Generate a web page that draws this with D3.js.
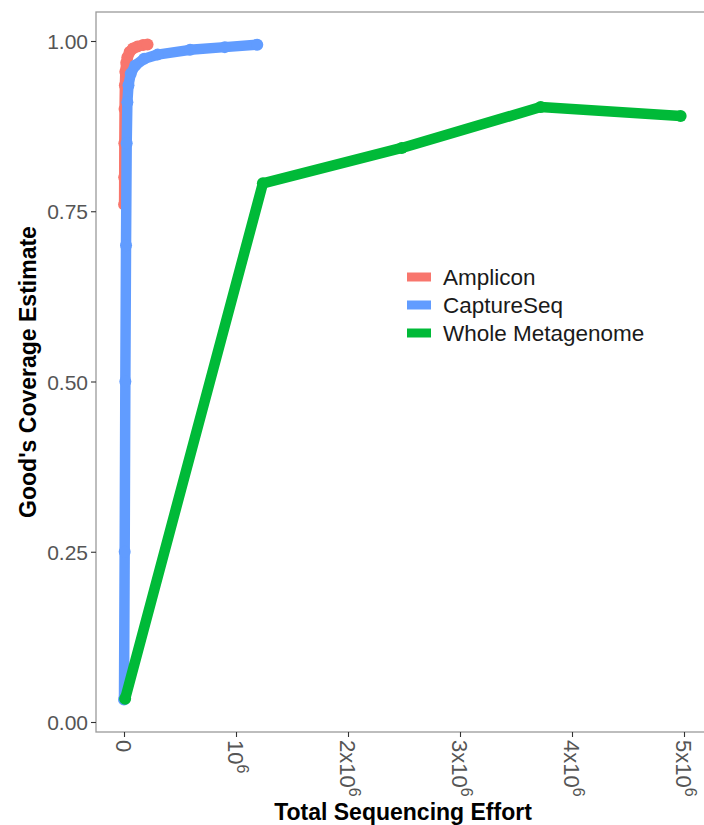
<!DOCTYPE html>
<html>
<head>
<meta charset="utf-8">
<script src="https://cdn.jsdelivr.net/npm/d3@7"></script>
<style>
  body { margin: 0; background: #fff; }
  text { font-family: "Liberation Sans", Arial, sans-serif; }
</style>
</head>
<body>
<div id="chart"></div>
<script>
// values (x = reads, y = Good's coverage)
let amplicon = [
  [0.001e6, 0.76], [0.002e6, 0.80], [0.003e6, 0.85], [0.005e6, 0.90],
  [0.008e6, 0.935], [0.012e6, 0.955], [0.02e6, 0.968], [0.03e6, 0.976],
  [0.05e6, 0.984], [0.08e6, 0.989], [0.12e6, 0.992], [0.17e6, 0.994],
  [0.21e6, 0.995]
];
let captureSeq = [
  [0, 0.033], [0.006e6, 0.25], [0.012e6, 0.5], [0.018e6, 0.7],
  [0.024e6, 0.85], [0.03e6, 0.91], [0.04e6, 0.935], [0.06e6, 0.952],
  [0.1e6, 0.964], [0.18e6, 0.974], [0.3e6, 0.98], [0.59e6, 0.987],
  [0.9e6, 0.991], [1.19e6, 0.9945]
];
let wholeMeta = [
  [0.01e6, 0.034], [1.24e6, 0.791], [2.48e6, 0.843], [3.72e6, 0.903],
  [4.97e6, 0.89]
];
let seriesNames = ["Amplicon", "CaptureSeq", "Whole Metagenome"];
let seriesColors = ["#F8766D", "#619CFF", "#00BA38"];
let yTicks = [0, 0.25, 0.5, 0.75, 1];
let xTicks = [0, 1e6, 2e6, 3e6, 4e6, 5e6];

let w = 704, h = 825;
let svg = d3.select("#chart").append("svg")
  .attr("width", w).attr("height", h);

let panel = { left: 96, top: 12, right: 706, bottom: 732 };

let x = d3.scaleLinear().domain([0, 5e6]).range([124, 684]);
let y = d3.scaleLinear().domain([0, 1]).range([722, 41]);

// panel border
svg.append("rect")
  .attr("x", panel.left).attr("y", panel.top)
  .attr("width", panel.right - panel.left)
  .attr("height", panel.bottom - panel.top)
  .attr("fill", "none").attr("stroke", "#9a9a9a").attr("stroke-width", 1.3);

// y axis
let yAxis = svg.append("g")
  .attr("transform", "translate(" + panel.left + ",0)")
  .call(d3.axisLeft(y).tickValues(yTicks).tickFormat(d3.format(".2f")).tickSize(5).tickPadding(3));
yAxis.select(".domain").remove();
yAxis.selectAll("line").attr("stroke", "#333").attr("stroke-width", 1.1);
yAxis.selectAll("text")
  .attr("font-size", 21).attr("fill", "#555")
  .attr("font-family", "Liberation Sans, Arial, sans-serif")
  .attr("dy", "0.36em");

// x axis
let xAxis = svg.append("g")
  .attr("transform", "translate(0," + panel.bottom + ")")
  .call(d3.axisBottom(x).tickValues(xTicks).tickSize(5).tickFormat(""));
xAxis.select(".domain").remove();
xAxis.selectAll("line").attr("stroke", "#333").attr("stroke-width", 1.1);

let xLab = svg.append("g").selectAll("text")
  .data(xTicks).enter().append("text")
  .attr("transform", d => "translate(" + x(d) + "," + (panel.bottom + 8) + ") rotate(90)")
  .attr("text-anchor", "start")
  .attr("dy", "0.36em")
  .attr("font-size", 22)
  .attr("fill", "#555");
xLab.each(function(d) {
  let t = d3.select(this);
  let m = Math.round(d / 1e6);
  if (m === 0) { t.text("0"); return; }
  t.append("tspan").text(m === 1 ? "10" : m + "x10");
  t.append("tspan").attr("font-size", 16).attr("dy", "-0.55em").text("6");
});

// axis titles
svg.append("text")
  .attr("x", (panel.left + panel.right) / 2 + 2).attr("y", 820)
  .attr("text-anchor", "middle").attr("font-size", 23).attr("font-weight", "bold")
  .text("Total Sequencing Effort");
svg.append("text")
  .attr("transform", "translate(36," + (panel.top + panel.bottom) / 2 + ") rotate(-90)")
  .attr("text-anchor", "middle").attr("font-size", 23).attr("font-weight", "bold")
  .text("Good's Coverage Estimate");

// series
let allSeries = [amplicon, captureSeq, wholeMeta];
let line = d3.line().x(d => x(d[0])).y(d => y(d[1]));

let plot = svg.append("g");
allSeries.forEach(function(s, i) {
  plot.append("path")
    .datum(s)
    .attr("d", line)
    .attr("fill", "none")
    .attr("stroke", seriesColors[i])
    .attr("stroke-width", 10.5)
    .attr("stroke-linejoin", "round")
    .attr("stroke-linecap", "round");
  plot.append("g").selectAll("circle")
    .data(s).enter().append("circle")
    .attr("cx", d => x(d[0])).attr("cy", d => y(d[1]))
    .attr("r", 6)
    .attr("fill", seriesColors[i]);
});

// legend
let legend = svg.append("g").attr("transform", "translate(407,277)");
let items = legend.selectAll("g").data(seriesNames).enter().append("g")
  .attr("transform", (d, i) => "translate(0," + i * 28 + ")");
items.append("line")
  .attr("x1", 0).attr("x2", 24).attr("y1", 0).attr("y2", 0)
  .attr("stroke", (d, i) => seriesColors[i]).attr("stroke-width", 9);
items.append("text")
  .attr("x", 36).attr("y", 0).attr("dy", "0.36em")
  .attr("font-size", 22.5).attr("fill", "#1a1a1a")
  .text(d => d);
</script>
</body>
</html>
